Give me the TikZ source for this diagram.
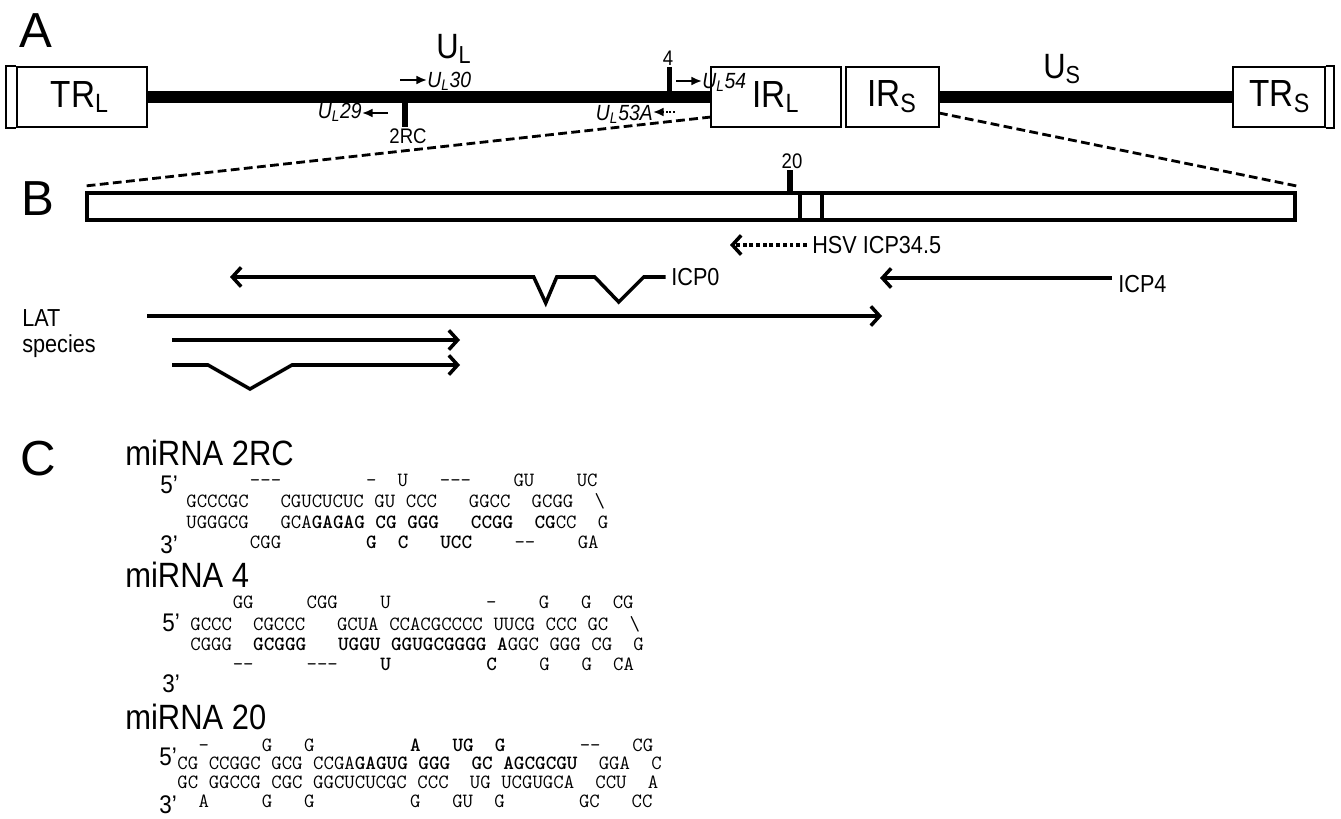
\documentclass[tikz,border=0pt]{standalone}
\usepackage{fontspec}
\setmainfont{Liberation Sans}[FakeStretch=0.88]
\newfontfamily\panelfont{Liberation Sans}
\usetikzlibrary{arrows.meta}
\newcommand{\gap}[1]{\hspace*{#1\dimexpr0.525em\relax}}
\newcommand{\twodash}{-\kern0pt-}
\newcommand{\threedash}{-\kern0pt-\kern0pt-}

\begin{document}
\begin{tikzpicture}[
  x=0.02cm, y=-0.02cm,
  every node/.style={inner sep=0pt},
  panel/.style={font=\fontsize{28}{28}\selectfont\panelfont, anchor=base west},
  segbox/.style={draw, line width=1pt, minimum height=1.2cm},
  seglbl/.style={font=\fontsize{21.5}{22}\selectfont},
  genome/.style={line width=6.8pt},
  site/.style={line width=3.4pt},
  sitelbl/.style={font=\fontsize{12}{12}\selectfont, anchor=base},
  gene/.style={font=\fontsize{12.5}{12.5}\selectfont\itshape},
  genearr/.style={line width=1.1pt, -{Latex[length=6pt,width=5pt]}},
  zoomline/.style={line width=1.6pt, dash pattern=on 5pt off 2.5pt},
  ripbox/.style={draw, line width=2pt},
  tx/.style={line width=2pt, -{Straight Barb[length=5pt,width=11pt]}},
  hsvarr/.style={line width=2.6pt, dash pattern=on 2.2pt off 1.6pt,
    -{Straight Barb[length=5pt,width=11pt,line width=2pt]}},
  txlbl/.style={font=\fontsize{14}{14.8}\selectfont},
  mirlbl/.style={font=\fontsize{20}{20}\selectfont, anchor=base west},
  endlbl/.style={font=\fontsize{14.5}{14.5}\selectfont, anchor=base west},
  seqrow/.style={font=\fontsize{11.5}{12}\selectfont\ttfamily, anchor=base west}
]
\useasboundingbox (0,0) rectangle (1341,818);

% A: genome map
\node[panel] (pA) at (19,47) {A};
\node[segbox, minimum width=2.6cm] (trl) at (82,97) {};
\node[segbox, minimum width=2.6cm] (irl) at (776,97) {};
\node[segbox, minimum width=1.86cm] (irs) at (892.5,97) {};
\node[segbox, minimum width=1.84cm] (trs) at (1279,97) {};
\draw[line width=1pt] (trl.north west) -- ++(-10,0) |- (trl.south west);
\draw[line width=1pt] (trs.north east) -- ++(8,0) |- (trs.south east);
\draw[genome] (trl.east) -- (irl.west);
\draw[genome] (irs.east) -- (trs.west);
\node[seglbl] (trltxt) at (80,97) {TR\textsubscript{L}};
\node[seglbl] (irltxt) at (776,97) {IR\textsubscript{L}};
\node[seglbl] (irstxt) at (892,97) {IR\textsubscript{S}};
\node[seglbl] (trstxt) at (1280,97) {TR\textsubscript{S}};
\node[seglbl, font=\fontsize{20}{20}\selectfont, anchor=base west] (ul) at (436,58) {U\textsubscript{L}};
\node[seglbl, font=\fontsize{20}{20}\selectfont, anchor=base west] (us) at (1043,78) {U\textsubscript{S}};

% miRNA sites
\coordinate (s2rc) at (405,97);
\coordinate (s4) at (669.5,97);
\draw[site] (s2rc) -- ++(0,30);
\draw[site] (s4) -- ++(0,-30);
\node[sitelbl] (l2rc) at (408,143) {2RC};
\node[sitelbl] (l4) at (668,65) {4};

% flanking genes
\node[gene, anchor=base west] (ul30) at (427,87) {U\textsubscript{L}30};
\node[gene, anchor=base east] (ul29) at (362,118) {U\textsubscript{L}29};
\node[gene, anchor=base west] (ul54) at (702,88) {U\textsubscript{L}54};
\node[gene, anchor=base east] (ul53a) at (653,120) {U\textsubscript{L}53A};
\coordinate (ul30a) at (400,80);
\coordinate (ul29a) at (388,113);
\coordinate (ul54a) at (676,81);
\coordinate (ul53aa) at (675,112);
\draw[genearr] (ul30a) -- (ul30a -| ul30.west);
\draw[genearr] (ul29a) -- (ul29a -| ul29.east);
\draw[genearr] (ul54a) -- (ul54a -| ul54.west);
\draw[genearr, densely dotted] (ul53aa) -- (ul53aa -| ul53a.east);

% B: expanded repeat
\node[panel] (pB) at (21,215) {B};
\node[ripbox, minimum width=24.16cm, minimum height=0.54cm] (rip) at (691,206.5) {};
\foreach \xx in {800,822}
  \draw[line width=2pt] (\xx,193) -- (\xx,220);
\coordinate (zl) at (711,117);
\coordinate (zr) at (939,113);
\draw[zoomline] (zl) -- ([yshift=3pt]rip.north west);
\draw[zoomline] (zr) -- ([yshift=3pt]rip.north east);
\coordinate (s20) at (790,195);
\draw[site] (s20) -- ++(0,-25);
\node[sitelbl] (l20) at (792,168) {20};

% transcripts
\node[txlbl, anchor=west] (icp345) at (812,245) {HSV ICP34.5};
\coordinate (icp345tip) at (730,245);
\draw[hsvarr] ([xshift=-3pt]icp345.west) -- (icp345tip);
\node[txlbl, anchor=west] (icp0) at (671,277) {ICP0};
\coordinate (icp0tip) at (230,277);
\draw[tx] ([xshift=-3pt]icp0.west) -- ++(-22,0) -- ++(-25,25) -- ++(-24,-25)
  -- ++(-38,0) -- ++(-11,26) -- ++(-12,-26) -- (icp0tip);
\node[txlbl, anchor=west] (icp4) at (1118,284) {ICP4};
\coordinate (icp4tail) at (1112,278);
\coordinate (icp4tip) at (880,278);
\draw[tx] (icp4tail) -- (icp4tip);
\node[txlbl, align=left, anchor=base west] (lat) at (22,352) {LAT\\species};
\coordinate (lat1s) at (147,316);
\coordinate (lat1e) at (882,316);
\coordinate (lat2s) at (172,340);
\coordinate (lat2e) at (460,340);
\coordinate (lat3s) at (172,365);
\coordinate (lat3e) at (460,365);
\draw[tx] (lat1s) -- (lat1e);
\draw[tx] (lat2s) -- (lat2e);
\draw[tx] (lat3s) -- ++(36,0) -- ++(42,24) -- ++(42,-24) -- (lat3e);

% C: hairpins
\node[panel] (pC) at (20,475) {C};
\node[mirlbl] (mir2rc) at (125,465) {miRNA 2RC};
\node[endlbl] (p5a) at (160,493) {5’};
\node[endlbl] (p3a) at (160,553) {3’};
\node[seqrow] (a1) at (186,486) {\gap6\threedash\gap8-\gap2U\gap3\threedash\gap4GU\gap4UC};
\node[seqrow] (a2) at (186,507) {GCCCGC\gap3CGUCUCUC\gap1GU\gap1CCC\gap3GGCC\gap2GCGG\gap2\textbackslash};
\node[seqrow] (a3) at (186,528) {UGGGCG\gap3GCA{\bfseries GAGAG}\gap1{\bfseries CG}\gap1{\bfseries GGG}\gap3{\bfseries CCGG}\gap2{\bfseries CG}CC\gap2G};
\node[seqrow] (a4) at (186,548) {\gap6CGG\gap8{\bfseries G}\gap2{\bfseries C}\gap3{\bfseries UCC}\gap4\twodash\gap4GA};

\node[mirlbl] (mir4) at (125,587) {miRNA 4};
\node[endlbl] (p5b) at (162,631) {5’};
\node[endlbl] (p3b) at (162,692) {3’};
\node[seqrow] (b1) at (190,608) {\gap4GG\gap5CGG\gap4U\gap9-\gap4G\gap3G\gap2CG};
\node[seqrow] (b2) at (190,630) {GCCC\gap2CGCCC\gap3GCUA\gap1CCACGCCCC\gap1UUCG\gap1CCC\gap1GC\gap2\textbackslash};
\node[seqrow] (b3) at (190,650) {CGGG\gap2{\bfseries GCGGG}\gap3{\bfseries UGGU}\gap1{\bfseries GGUGCGGGG}\gap1{\bfseries A}GGC\gap1GGG\gap1CG\gap2G};
\node[seqrow] (b4) at (190,670) {\gap4\twodash\gap5\threedash\gap4{\bfseries U}\gap9{\bfseries C}\gap4G\gap3G\gap2CA};

\node[mirlbl] (mir20) at (125,729) {miRNA 20};
\node[endlbl] (p5c) at (159,765) {5’};
\node[endlbl] (p3c) at (159,813) {3’};
\node[seqrow] (c1) at (177,751) {\gap2-\gap5G\gap3G\gap9{\bfseries A}\gap3{\bfseries UG}\gap2{\bfseries G}\gap7\twodash\gap3CG};
\node[seqrow] (c2) at (177,769) {CG\gap1CCGGC\gap1GCG\gap1CCGA{\bfseries GAGUG}\gap1{\bfseries GGG}\gap2{\bfseries GC}\gap1{\bfseries AGCGCGU}\gap2GGA\gap2C};
\node[seqrow] (c3) at (177,788) {GC\gap1GGCCG\gap1CGC\gap1GGCUCUCGC\gap1CCC\gap2UG\gap1UCGUGCA\gap2CCU\gap2A};
\node[seqrow] (c4) at (177,807) {\gap2A\gap5G\gap3G\gap9G\gap3GU\gap2G\gap7GC\gap3CC};
\end{tikzpicture}
\end{document}
